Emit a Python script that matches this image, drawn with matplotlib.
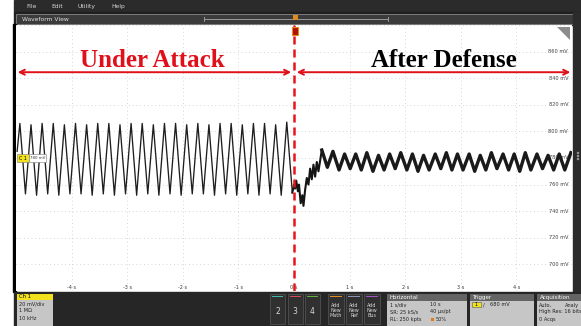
import matplotlib
matplotlib.use('Agg')
import matplotlib.pyplot as plt
from matplotlib.patches import Rectangle, Polygon

# Spannungsverlauf vor dem Eingriff (Spitzen und Taeler, s / mV)
attack_t = [-4.98,
            -4.93, -4.83, -4.73, -4.63, -4.53, -4.43, -4.33, -4.23, -4.13, -4.03,
            -3.93, -3.83, -3.73, -3.63, -3.53, -3.43, -3.33, -3.23, -3.13, -3.03,
            -2.93, -2.83, -2.73, -2.63, -2.53, -2.43, -2.33, -2.23, -2.13, -2.03,
            -1.93, -1.83, -1.73, -1.63, -1.53, -1.43, -1.33, -1.23, -1.13, -1.03,
            -0.93, -0.83, -0.73, -0.63, -0.53, -0.43, -0.33, -0.23, -0.13, -0.03]
attack_mv = [785,
             806, 753, 805, 752, 806, 753, 806, 752, 805, 753,
             806, 753, 805, 752, 806, 753, 806, 752, 805, 753,
             806, 752, 806, 753, 805, 752, 806, 753, 806, 752,
             805, 753, 806, 753, 805, 752, 806, 753, 806, 752,
             805, 753, 806, 752, 806, 753, 805, 752, 807, 754]

# Uebergang direkt nach dem Eingriff
trans_t = [-0.03, 0.00, 0.02, 0.04, 0.07, 0.09, 0.12, 0.15, 0.17, 0.20,
           0.23, 0.26, 0.29, 0.32, 0.35, 0.38, 0.41, 0.44, 0.50]
trans_mv = [754, 760, 757, 763, 755, 760, 746, 752, 744, 756,
            765, 760, 772, 764, 775, 766, 777, 770, 786]

# nach der Abwehr
defense_peak_t = [0.50, 0.70, 0.91, 1.11, 1.31, 1.52, 1.72, 1.92, 2.13, 2.33, 2.54, 2.74,
                  2.94, 3.15, 3.35, 3.55, 3.76, 3.96, 4.16, 4.37, 4.57, 4.77, 4.98]
defense_peak_mv = [786, 785, 783, 783, 784, 782, 783, 784, 783, 782, 783, 784,
                   783, 783, 782, 784, 783, 783, 784, 783, 782, 783, 784]
defense_trough_t = [0.60, 0.81, 1.01, 1.21, 1.42, 1.62, 1.82, 2.03, 2.23, 2.43, 2.64,
                    2.84, 3.04, 3.25, 3.45, 3.65, 3.86, 4.06, 4.26, 4.47, 4.67, 4.87]
defense_trough_mv = [773, 771, 772, 771, 770, 771, 772, 771, 770, 771, 772,
                     771, 771, 770, 771, 772, 771, 770, 771, 772, 771, 771]

x_ticks = [-4, -3, -2, -1, 0, 1, 2, 3, 4]
y_ticks = [700, 720, 740, 760, 780, 800, 820, 840, 860]

W, H = 581, 326
fig = plt.figure(figsize=(W / 100, H / 100), dpi=100)
fig.patch.set_facecolor('white')

# Oberflaeche des Oszilloskops in Pixelkoordinaten
ui = fig.add_axes([0, 0, 1, 1])
ui.set_xlim(0, W)
ui.set_ylim(H, 0)
ui.axis('off')

sans = ['DejaVu Sans']
ui.add_patch(Rectangle((14, 0), 567, 12, color='#2b2b2b'))
ui.add_patch(Rectangle((14, 12), 567, 13, color='#1f1f1f'))
for name, xp in [('File', 26), ('Edit', 51), ('Utility', 78), ('Help', 111)]:
    ui.text(xp, 6.5, name, color='#d6d6d6', fontsize=4.3, va='center', family=sans)
ui.add_patch(Rectangle((16, 14), 563, 10, fc='#3b3b3b', ec='#8a8a8a', lw=0.6))
ui.text(22, 19.2, 'Waveform View', color='#e2e2e2', fontsize=4.3, va='center', family=sans)
ui.plot([204, 388], [18.5, 18.5], color='#9a9a9a', lw=0.7)
ui.plot([204, 204], [16.5, 20.5], color='#9a9a9a', lw=0.7)
ui.plot([388, 388], [16.5, 20.5], color='#9a9a9a', lw=0.7)
ui.add_patch(Rectangle((572.5, 12), 8.5, 281, color='#2b2b2b'))
for yp in [152, 155, 158]:
    ui.add_patch(Rectangle((576.5, yp), 1, 1, color='#999999'))
ui.add_patch(Rectangle((13, 24), 3.2, 268, color='black'))

# untere Leiste
ui.add_patch(Rectangle((14, 292), 567, 34, color='#262626'))
ui.add_patch(Rectangle((17, 293.5), 36, 6, fc='#f2e21e', ec='none'))
ui.text(19, 296.7, 'Ch 1', fontsize=3.8, va='center', color='black', family=sans)
ui.add_patch(Rectangle((17, 299.5), 36, 26, fc='#c6c6c6', ec='none'))
for txt, yp in [('20 mV/div', 304), ('1 MΩ', 311), ('10 kHz', 318.5)]:
    ui.text(19, yp, txt, fontsize=3.6, va='center', color='#222222', family=sans)

for xp, lab, col in [(270, '2', '#3fb8a6'), (287.5, '3', '#d8485a'), (305, '4', '#5fae3e')]:
    ui.add_patch(Rectangle((xp, 294), 15, 30, fc='#303030', ec='#585858', lw=0.5))
    ui.add_patch(Rectangle((xp + 2, 295.5), 11, 1.3, fc=col, ec='none'))
    ui.text(xp + 7.5, 311, lab, fontsize=5.5, ha='center', va='center', color='#d8d8d8', family=sans)
for xp, lab, col in [(328, 'Add\nNew\nMath', '#e08a22'), (346, 'Add\nNew\nRef', '#8c92b4'),
                     (364, 'Add\nNew\nBus', '#a455c4')]:
    ui.add_patch(Rectangle((xp, 294), 16, 30, fc='#303030', ec='#585858', lw=0.5))
    ui.add_patch(Rectangle((xp + 2, 295.5), 12, 1.3, fc=col, ec='none'))
    ui.text(xp + 8, 310.5, lab, fontsize=3.5, ha='center', va='center', color='#d8d8d8',
            linespacing=0.95, family=sans)

for x0, w, title in [(387, 80, 'Horizontal'), (470, 64, 'Trigger'), (537, 44, 'Acquisition')]:
    ui.add_patch(Rectangle((x0, 294), w, 7, fc='#646464', ec='none'))
    ui.add_patch(Rectangle((x0, 301), w, 24.5, fc='#c6c6c6', ec='none'))
    ui.text(x0 + 2.5, 297.6, title, fontsize=4.1, va='center', color='white', family=sans)
for txt, xp, yp in [('1 s/div', 389.5, 305), ('10 s', 430, 305),
                    ('SR: 25 kS/s', 389.5, 312), ('40 μs/pt', 430, 312),
                    ('RL: 250 kpts', 389.5, 319.5), ('50%', 435.5, 319.5),
                    ('/', 483, 305), ('680 mV', 490, 305),
                    ('Auto,', 539, 305), ('Analy', 565, 305),
                    ('High Res: 16 bits', 539, 312), ('0 Acqs', 539, 319.5)]:
    ui.text(xp, yp, txt, fontsize=3.6, va='center', color='#222222', family=sans)
ui.add_patch(Rectangle((430.5, 317.5), 3.5, 3.5, fc='#e07a1a', ec='none'))
ui.add_patch(Rectangle((472, 302.2), 9, 5, fc='#f2e21e', ec='#555555', lw=0.4))
ui.text(476.5, 304.8, '1', fontsize=3.6, ha='center', va='center', color='black', family=sans)

# Messbereich
ax = fig.add_axes([16 / W, 1 - 291 / H, (572 - 16) / W, (291 - 25) / H])
ax.set_xlim(-5, 5)
ax.set_ylim(680, 880)
ax.set_facecolor('white')
for s in ax.spines.values():
    s.set_visible(False)
ax.set_xticks(x_ticks)
ax.set_yticks(y_ticks + [880])
ax.tick_params(length=0, labelbottom=False, labelleft=False)
ax.grid(True, color='#c8c8c8', lw=0.6, ls=(0, (1, 3.5)))

for v in y_ticks:
    ax.text(4.93, v, f'{v} mV', ha='right', va='center', fontsize=3.6, color='#3a3a3a',
            family=sans, zorder=1)
for t in x_ticks:
    ax.text(t, 682.8, f'{t} s', ha='center', va='center', fontsize=3.6, color='#3a3a3a',
            family=sans, zorder=1)

defense_t = []
defense_mv = []
for i in range(len(defense_peak_t)):
    defense_t.append(defense_peak_t[i])
    defense_mv.append(defense_peak_mv[i])
    if i < len(defense_trough_t):
        defense_t.append(defense_trough_t[i])
        defense_mv.append(defense_trough_mv[i])

ax.plot(attack_t, attack_mv, color='#1e1e1e', lw=0.95, zorder=3)
ax.plot(trans_t, trans_mv, color='#151515', lw=1.5, zorder=3)
ax.plot(defense_t, defense_mv, color='#1a1a1a', lw=2.4, zorder=3)

ax.axvline(0, color='#e8141c', lw=1.8, ls=(0, (3.2, 2)), zorder=4)

red = '#e0101a'
ax.annotate('', xy=(-4.97, 844.5), xytext=(-0.05, 844.5),
            arrowprops=dict(arrowstyle='<->', color=red, lw=1.4, mutation_scale=9,
                            shrinkA=0, shrinkB=0), zorder=5)
ax.annotate('', xy=(0.05, 844.5), xytext=(4.97, 844.5),
            arrowprops=dict(arrowstyle='<->', color=red, lw=1.4, mutation_scale=9,
                            shrinkA=0, shrinkB=0), zorder=5)
ax.text(-2.54, 853.5, 'Under Attack', color=red, fontsize=18, fontweight='bold',
        ha='center', va='center', family=['Liberation Serif'], zorder=5)
ax.text(2.7, 853.5, 'After Defense', color='black', fontsize=18, fontweight='bold',
        ha='center', va='center', family=['Liberation Serif'], zorder=5)

# Elemente ueber dem Messbereich
tr = ui.transData
ax.add_patch(Polygon([(557, 27), (570, 27), (570, 40)], closed=True, fc='#8c8c8c',
                     ec='none', transform=tr, clip_on=False, zorder=6))
ax.add_patch(Rectangle((17, 154), 12, 8, fc='#f2e21e', ec='#777777', lw=0.4,
                       transform=tr, clip_on=False, zorder=6))
ax.text(23, 158, 'C 1', fontsize=3.4, ha='center', va='center', color='black',
        transform=tr, family=sans, zorder=7)
ax.add_patch(Rectangle((29, 154), 17, 8, fc='white', ec='#777777', lw=0.4,
                       transform=tr, clip_on=False, zorder=6))
ax.text(37.5, 158, '780 mV', fontsize=2.8, ha='center', va='center', color='#333333',
        transform=tr, family=sans, zorder=7)
ax.add_patch(Rectangle((292.5, 14.5), 5, 5, fc='#e08a22', ec='none',
                       transform=tr, clip_on=False, zorder=6))
ax.add_patch(Rectangle((292, 27), 6, 8, fc='#b01000', ec='#e08a22', lw=0.8,
                       transform=tr, clip_on=False, zorder=6))

fig.savefig('out.png', dpi=100)
